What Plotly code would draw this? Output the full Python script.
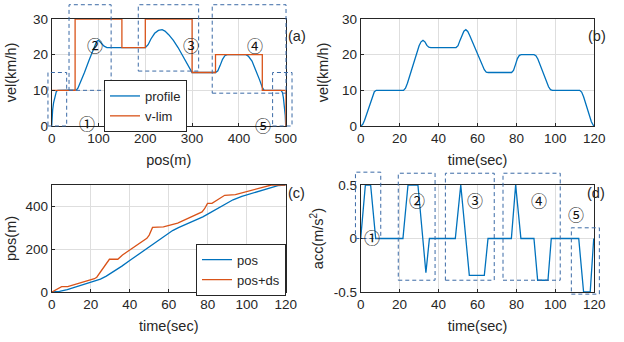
import plotly.graph_objects as go
from plotly.subplots import make_subplots

# ---------------- data ----------------
# (a) velocity profile vs position
pos_a = [0, 1, 2, 4, 7, 10, 13, 50, 53, 56, 60, 70, 80, 90, 96, 100, 106, 112, 118,
         200, 206, 212, 220, 228, 236, 242, 250, 260, 270, 280, 290, 296, 300,
         350, 355, 360, 365, 370, 375, 415, 420, 428, 436, 444, 450, 454,
         490, 493, 495, 497, 499, 500]
vel_a = [0, 3.2, 4.5, 6.5, 8.5, 9.7, 10, 10, 10.1, 10.6, 11.8, 15, 18.5, 22, 23.7, 24, 23.3, 22.4, 22,
         22, 22.8, 24.4, 26, 26.8, 27, 26.6, 25.6, 24, 22, 19.7, 17.2, 15.8, 15,
         15, 15.5, 17, 18.7, 19.7, 20, 20, 19.6, 18.2, 15.8, 13, 10.8, 10,
         10, 9.4, 8, 6, 3, 0]
vlim_pos = [0, 50, 150, 200, 300, 350, 450, 500]
vlim_vel = [10, 30, 22, 30, 15, 20, 10, 0]

# (b) velocity vs time
t_v = [0, 1, 2, 3, 4, 5, 6, 7, 8, 22, 23, 24, 26, 28, 30, 31, 32, 33, 34, 35, 36,
       49, 50, 51, 52, 53, 54, 55, 56, 58, 60, 62, 63.5, 64.5, 65.5,
       77.5, 78.5, 79.5, 80.5, 81.5, 82.5, 89, 90, 91, 93, 95, 96.5, 97.5, 98.5,
       112.5, 113.5, 114.5, 116, 117.5, 118.5, 119.5, 120]
vel_t = [0, 0.4, 1.6, 3.2, 5.0, 6.8, 8.5, 9.6, 10, 10, 10.6, 12, 15.5, 19.2, 22.5, 23.6, 24, 23.6, 22.6, 22.1, 22,
         22, 22.5, 24, 25.6, 26.6, 27, 26.5, 25.4, 22.8, 20.2, 17.6, 15.8, 15.1, 15,
         15, 15.6, 17.2, 18.9, 19.8, 20, 20, 19.7, 18.8, 16, 13.2, 11, 10.2, 10,
         10, 9.5, 8.2, 5.5, 2.8, 1.2, 0.2, 0]

# (c) position vs time
t_pos = [0, 4, 8, 15, 22, 25, 28, 32, 36, 40, 45, 49, 52, 54, 58, 62, 65, 70, 77.5,
         80, 82, 86, 89, 93, 97.5, 105, 112.5, 116, 120]
pos_t = [0, 3, 11, 30, 50, 60, 74, 96, 121, 147, 178, 203, 222, 235, 262, 287, 301, 320, 351,
         364, 374, 396, 412, 431, 447, 468, 489, 497, 500]
t_ds = [0, 0.3, 5.1, 8.2, 21.9, 23.1, 29.6, 33.9, 36.3, 48.8, 50, 51.7, 57.3, 64.2, 64.6,
        77.1, 78.4, 79.9, 82.2, 88.7, 94.2, 112.6, 120]
pos_ds = [0, 1, 25, 25, 62, 69, 153, 153, 173, 251, 266, 302, 304, 319, 322,
          374, 389, 414, 414, 452, 455, 500, 500]

# (d) acceleration vs time
t_acc = [0, 2.4, 5.1, 7.7, 21.7, 24.3, 29.4, 33.5, 35.3, 48.6, 51.4, 55.8, 63.5, 65.4,
         77.4, 79.6, 82.3, 89, 90.9, 96.2, 97.9, 112, 114.5, 117.9, 119.7]
acc = [0, 0.5, 0.5, 0, 0, 0.5, 0.5, -0.32, 0, 0, 0.5, -0.345, -0.345, 0,
       0, 0.5, 0, 0, -0.39, -0.39, 0, 0, -0.5, -0.5, 0]

# dashed region boxes (data units) and circled labels
boxes_a = [(-8, 32, 0, 15), (37, 127, 10, 34), (185, 314, 15.4, 34), (343, 500.7, 9.2, 34), (472, 513.5, 0, 15)]
labels_a = [(55, 4.7, "①"), (72, 26.6, "②"), (276, 26.6, "③"), (434, 26.6, "④"), (452, 4.2, "⑤")]
boxes_d = [(-2.7, 10.3, 0.0, 0.62), (19.3, 38.2, -0.39, 0.61), (43.5, 68.6, -0.39, 0.61),
           (73.1, 102.5, -0.39, 0.61), (108.2, 122.6, -0.52, 0.1)]
labels_d = [(5.8, -0.12, "①"), (34, 0.356, "②"), (63.8, 0.356, "③"), (96.5, 0.356, "④"), (115.7, 0.225, "⑤")]

# ---------------- figure ----------------
BLUE = "#0072BD"
ORANGE = "#D95319"
BOXC = "#3b6aa6"
FONT = "Liberation Sans, Arial, sans-serif"
TXT = "#262626"

fig = make_subplots(rows=2, cols=2)

fig.add_trace(go.Scatter(x=pos_a, y=vel_a, mode="lines", name="profile",
                         line=dict(color=BLUE, width=1.3), legend="legend"), 1, 1)
fig.add_trace(go.Scatter(x=vlim_pos, y=vlim_vel, mode="lines", name="v-lim", line_shape="hv",
                         line=dict(color=ORANGE, width=1.3), legend="legend"), 1, 1)
fig.add_trace(go.Scatter(x=t_v, y=vel_t, mode="lines", showlegend=False,
                         line=dict(color=BLUE, width=1.3)), 1, 2)
fig.add_trace(go.Scatter(x=t_pos, y=pos_t, mode="lines", name="pos",
                         line=dict(color=BLUE, width=1.3), legend="legend2"), 2, 1)
fig.add_trace(go.Scatter(x=t_ds, y=pos_ds, mode="lines", name="pos+ds",
                         line=dict(color=ORANGE, width=1.3), legend="legend2"), 2, 1)
fig.add_trace(go.Scatter(x=t_acc, y=acc, mode="lines", showlegend=False,
                         line=dict(color=BLUE, width=1.3)), 2, 2)

W, H = 624, 342
xdomL = [51.7 / W, 285.7 / W]
xdomR = [360.7 / W, 594.3 / W]
ydomT = [1 - 126 / H, 1 - 19 / H]
ydomB = [1 - 292 / H, 1 - 185 / H]

axis_common = dict(showline=True, mirror=True, linecolor=TXT, linewidth=1,
                   showgrid=True, gridcolor="#dedede", gridwidth=1, zeroline=False,
                   ticks="inside", ticklen=3, tickcolor=TXT, automargin=False,
                   tickfont=dict(family=FONT, size=13.5, color=TXT))
title_font = dict(family=FONT, size=14.5, color=TXT)


def xt(text):
    return dict(text=text, font=title_font, standoff=9)


def yt(text, so):
    return dict(text=text, font=title_font, standoff=so)


rng = {
    "x": [0, 500], "y": [0, 30],
    "x2": [0, 120], "y2": [0, 30],
    "x3": [0, 120], "y3": [0, 500],
    "x4": [0, 120], "y4": [-0.5, 0.5],
}
fig.update_layout(
    xaxis=dict(domain=xdomL, range=rng["x"], dtick=100, title=xt("pos(m)"), **axis_common),
    yaxis=dict(domain=ydomT, range=rng["y"], dtick=10, title=yt("vel(km/h)", 12), **axis_common),
    xaxis2=dict(domain=xdomR, range=rng["x2"], dtick=20, title=xt("time(sec)"), **axis_common),
    yaxis2=dict(domain=ydomT, range=rng["y2"], dtick=10, title=yt("vel(km/h)", 9.5), **axis_common),
    xaxis3=dict(domain=xdomL, range=rng["x3"], dtick=20, title=xt("time(sec)"), **axis_common),
    yaxis3=dict(domain=ydomB, range=rng["y3"], dtick=200, title=yt("pos(m)", 5), **axis_common),
    xaxis4=dict(domain=xdomR, range=rng["x4"], dtick=20, title=xt("time(sec)"), **axis_common),
    yaxis4=dict(domain=ydomB, range=rng["y4"], tickvals=[-0.5, 0, 0.5], ticktext=["-0.5", "0", "0.5"],
                title=yt("acc(m/s<sup>2</sup>)", 6), **axis_common),
)


def to_paper(dom, r, v):
    return dom[0] + (v - r[0]) / (r[1] - r[0]) * (dom[1] - dom[0])


shapes = []
annotations = []
for (boxes, labels, xd, yd, xr, yr) in [
    (boxes_a, labels_a, xdomL, ydomT, rng["x"], rng["y"]),
    (boxes_d, labels_d, xdomR, ydomB, rng["x4"], rng["y4"]),
]:
    for (x0, x1, y0, y1) in boxes:
        shapes.append(dict(type="rect", xref="paper", yref="paper",
                           x0=to_paper(xd, xr, x0), x1=to_paper(xd, xr, x1),
                           y0=to_paper(yd, yr, y0), y1=to_paper(yd, yr, y1),
                           line=dict(color=BOXC, width=1, dash="4px,3px"),
                           fillcolor="rgba(0,0,0,0)", layer="above"))
    for (lx, ly, txt) in labels:
        annotations.append(dict(xref="paper", yref="paper",
                                x=to_paper(xd, xr, lx), y=to_paper(yd, yr, ly),
                                text=txt, showarrow=False,
                                font=dict(family="Noto Sans CJK JP", size=16, color="#111111")))

for (px, py, txt) in [(296.7, 26, "(a)"), (607.7, 26, "(b)"), (296, 192.7, "(c)"), (607, 193, "(d)")]:
    annotations.append(dict(xref="paper", yref="paper", x=px / W, y=1 - py / H, text=txt,
                            showarrow=False, font=dict(family=FONT, size=14.5, color=TXT)))

legend_common = dict(bgcolor="white", bordercolor=TXT, borderwidth=1,
                     font=dict(family=FONT, size=13, color=TXT), tracegroupgap=0)
fig.update_layout(
    width=W, height=H, margin=dict(l=0, r=0, t=0, b=0),
    paper_bgcolor="white", plot_bgcolor="white",
    shapes=shapes, annotations=annotations,
    legend=dict(x=104 / W, y=1 - 80 / H, xanchor="left", yanchor="top", **legend_common),
    legend2=dict(x=286 / W, y=1 - 243.7 / H, xanchor="right", yanchor="top", **legend_common),
    font=dict(family=FONT, color=TXT),
)

fig.write_html("out.html")
